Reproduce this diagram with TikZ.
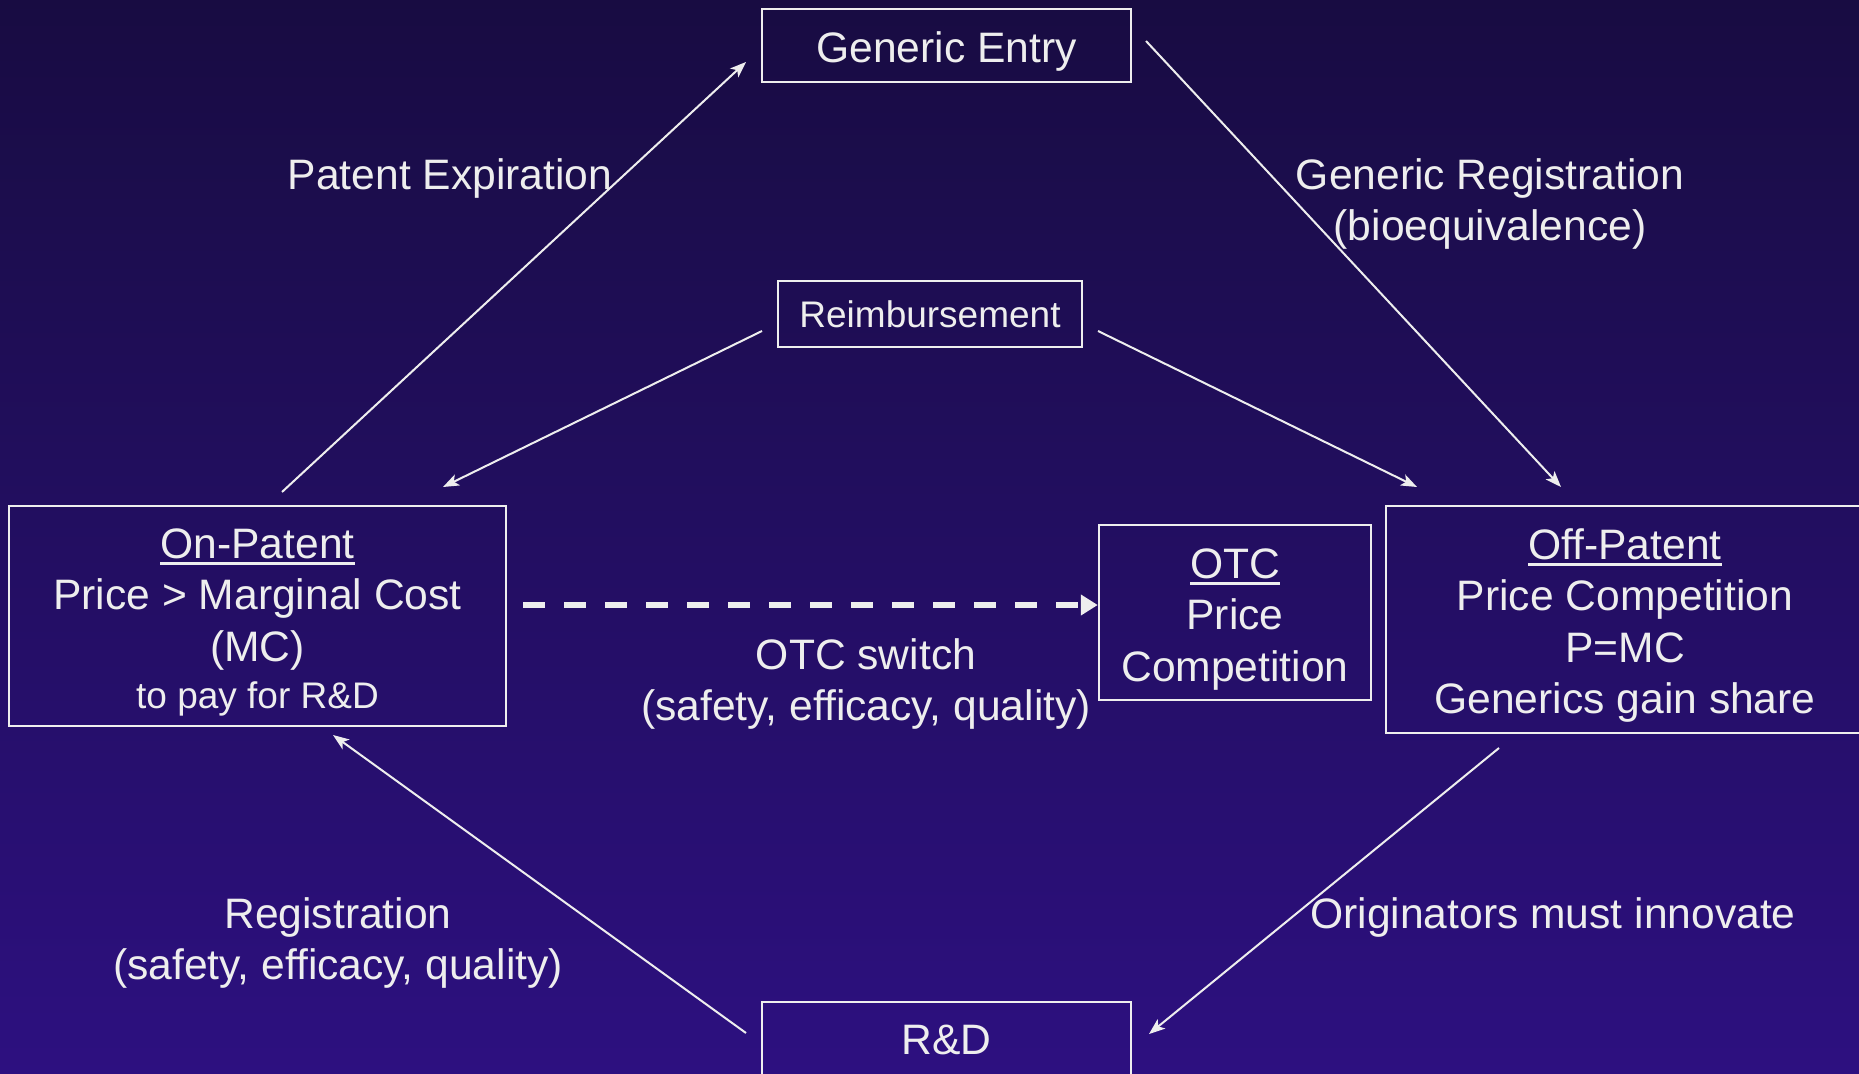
\documentclass[tikz,border=0pt]{standalone}
\usepackage{fontspec}
\setmainfont{Liberation Sans}
\usetikzlibrary{arrows.meta}
\definecolor{bgtop}{RGB}{24,12,66}
\definecolor{bgbot}{RGB}{45,16,128}
\definecolor{ink}{RGB}{238,238,238}
\newcommand\myul[1]{\setbox0\hbox{#1}\rlap{\raisebox{-7pt}{\color{ink}\rule{\wd0}{3pt}}}\box0}
\newcommand\topgap{\rule{0pt}{43pt}}
\begin{document}
\begin{tikzpicture}[x=1pt,y=-1pt,
  box/.style={draw=ink, line width=2.5pt, inner sep=0pt, align=center, text=ink},
  big/.style={font=\fontsize{42.6}{51.5}\selectfont},
  small/.style={font=\fontsize{37}{45}\selectfont},
  lbl/.style={text=ink, align=center, font=\fontsize{42.6}{51.5}\selectfont, inner sep=0pt},
  conn/.style={draw=ink, line width=2pt, -{Stealth[length=16pt,width=12pt,inset=4pt]}},
  otcarrow/.style={draw=ink, line width=6pt, dash pattern=on 22pt off 19pt, -{Triangle[length=17pt,width=20pt]}}]
\useasboundingbox (0,0) rectangle (1859,1073);
\clip (0,0) rectangle (1859,1073);
\shade[top color=bgtop, bottom color=bgbot] (0,0) rectangle (1859,1073);

% boxes
\node[box,big,minimum width=369,minimum height=73] (ge) at (946.5,45.5) {\topgap Generic Entry};
\node[box,small,minimum width=304,minimum height=66] (re) at (930,314) {Reimbursement};
\node[box,big,minimum width=497,minimum height=220] (on) at (257.5,616)
  {\topgap\myul{On-Patent}\\Price > Marginal Cost\\(MC)\\[-4pt]{\fontsize{37}{45}\selectfont to pay for R\&D}};
\node[box,big,minimum width=272,minimum height=175] (otc) at (1235,612.5)
  {\topgap\myul{OTC}\\Price\\Competition};
\node[box,big,minimum width=478,minimum height=227] (off) at (1625,619.5)
  {\topgap\myul{Off-Patent}\\Price Competition\\P=MC\\Generics gain share};
\node[box,big,minimum width=369,minimum height=76] (rd) at (946.5,1040) {R\&D};

% labels
\node[lbl] (lpe) at (450,178) {Patent Expiration};
\node[lbl] (lgr) at (1490,204) {Generic Registration\\(bioequivalence)};
\node[lbl] (lotc) at (866,684) {OTC switch\\(safety, efficacy, quality)};
\node[lbl] (lreg) at (338,943) {Registration\\(safety, efficacy, quality)};
\node[lbl] (lori) at (1553,917) {Originators must innovate};

% connector end points
\coordinate (pe0) at (282,492);  \coordinate (pe1) at (746,62);
\coordinate (gr0) at (1146,41);  \coordinate (gr1) at (1561,487);
\coordinate (rl0) at (762,331);  \coordinate (rl1) at (443,487);
\coordinate (rr0) at (1098,331); \coordinate (rr1) at (1417,487);
\coordinate (rg0) at (746,1033); \coordinate (rg1) at (333,735);
\coordinate (or0) at (1499,748); \coordinate (or1) at (1149,1034);
\coordinate (d0) at (523,605);

\draw[conn] (pe0) -- (pe1);
\draw[conn] (gr0) -- (gr1);
\draw[conn] (rl0) -- (rl1);
\draw[conn] (rr0) -- (rr1);
\draw[conn] (rg0) -- (rg1);
\draw[conn] (or0) -- (or1);
\draw[otcarrow] (d0) -- (d0 -| otc.west);
\end{tikzpicture}
\end{document}
